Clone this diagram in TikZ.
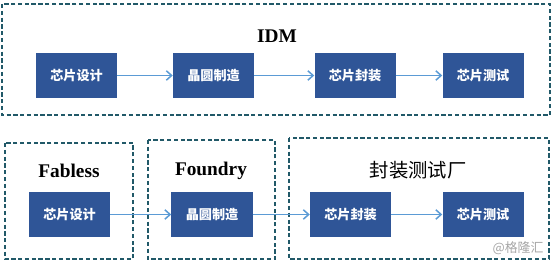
\documentclass[tikz,border=0pt]{standalone}
\usepackage{fontspec}
\setmainfont{Liberation Serif}
\newfontfamily\cjk{Noto Sans CJK SC}
\usepackage{tikz}
\usetikzlibrary{arrows.meta, positioning}

\definecolor{boxblue}{HTML}{2F5597}
\definecolor{arrowblue}{HTML}{5B9BD5}
\definecolor{frameteal}{HTML}{215968}

\begin{document}
\begin{tikzpicture}[
    x=0.03cm, y=-0.03cm,
    stage/.style={rectangle, fill=boxblue, text=white, minimum width=2.43cm, minimum height=1.35cm, inner sep=0pt, font=\cjk\bfseries\fontsize{11.2}{13}\selectfont},
    frame/.style={draw=frameteal, line width=2pt, dash pattern=on 3.6pt off 2.2pt},
    title/.style={font=\bfseries\fontsize{16.5}{18}\selectfont},
    flow/.style={-{Straight Barb[length=4.5pt, width=8pt]}, draw=arrowblue, line width=1.3pt},
]
    \useasboundingbox (0,0) rectangle (554,264);

    % IDM frame
    \draw[frame] (2,4) rectangle (550,115);
    \node[title] (idm) at (277,36) {IDM};

    % IDM chain
    \node[stage] (design) at (76.5,75.5) {芯片设计};
    \node[stage] (wafer) at (213.5,75.5) {晶圆制造};
    \node[stage] (package) at (355,75.5) {芯片封装};
    \node[stage] (test) at (483,75.5) {芯片测试};

    % Split model frames
    \draw[frame] (5,143) rectangle (133,259);
    \draw[frame] (148,140) rectangle (275,259);
    \draw[frame] (289,138) rectangle (549,259);
    \node[title] (fabless) at (69,171) {Fabless};
    \node[title] (foundry) at (211,171) {Foundry};
    \node[font=\cjk\fontsize{16.5}{18}\selectfont] (osat) at (418,170) {封装测试厂};

    % Split chain
    \node[stage] (sdesign) at (69.5,214.5) {芯片设计};
    \node[stage] (swafer) at (212,214.5) {晶圆制造};
    \node[stage] (spackage) at (350.5,214.5) {芯片封装};
    \node[stage] (stest) at (483,214.5) {芯片测试};

    % watermark
    \node[font=\cjk\fontsize{11}{12}\selectfont, text=gray!70] (mark) at (518,248) {@格隆汇};

    % --- Arrows ---
    \draw[flow] (design) -- (wafer);
    \draw[flow] (wafer) -- (package);
    \draw[flow] (package) -- (test);

    \draw[flow] (sdesign) -- (swafer);
    \draw[flow] (swafer) -- (spackage);
    \draw[flow] (spackage) -- (stest);

\end{tikzpicture}
\end{document}
